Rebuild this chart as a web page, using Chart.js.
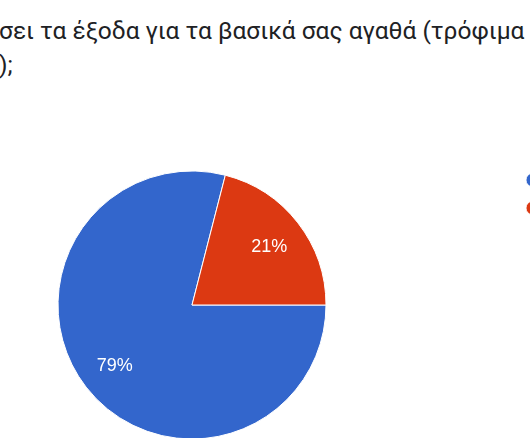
<!DOCTYPE html>
<html>
<head>
<meta charset="utf-8">
<script src="https://cdn.jsdelivr.net/npm/chart.js@4"></script>
<style>
  body { margin: 0; width: 530px; height: 438px; overflow: hidden; background: #fff; position: relative; }
  #title {
    position: absolute; left: -1px; top: 14px; white-space: nowrap;
    font-family: Roboto, Arial, sans-serif; font-size: 24.5px; line-height: 34px; color: #202124;
  }
  #pie { position: absolute; left: -130px; top: 0; }
</style>
</head>
<body>
<div id="title">σει τα έξοδα για τα βασικά σας αγαθά (τρόφιμα<br>);</div>
<canvas id="pie" width="704" height="451"></canvas>
<script>
// Answers and their share of responses (%)
const answers = ['Ναι', 'Όχι'];
const shares = [79, 21];
const colors = ['#3366cc', '#dc3912'];

// Percentage labels drawn inside each slice
const percentLabels = {
    id: 'percentLabels',
    afterDatasetsDraw(chart) {
        const ctx = chart.ctx;
        const meta = chart.getDatasetMeta(0);
        const values = chart.data.datasets[0].data;
        const total = values.reduce((a, b) => a + b, 0);
        ctx.save();
        ctx.fillStyle = '#ffffff';
        ctx.font = '18px Arial, "Liberation Sans", sans-serif';
        ctx.textAlign = 'center';
        ctx.textBaseline = 'alphabetic';
        meta.data.forEach((arc, i) => {
            const p = arc.getProps(['x', 'y', 'startAngle', 'endAngle', 'outerRadius'], true);
            const mid = (p.startAngle + p.endAngle) / 2;
            const r = p.outerRadius * 0.73;
            const pct = Math.round(values[i] / total * 100);
            // baseline shifted so the digits sit centred on the point
            ctx.fillText(pct + '%', p.x + Math.cos(mid) * r, p.y + Math.sin(mid) * r + 6.5);
        });
        ctx.restore();
    }
};

const ctx = document.getElementById('pie').getContext('2d');
new Chart(ctx, {
    type: 'pie',
    data: {
        labels: answers,
        datasets: [{
            data: shares,
            backgroundColor: colors,
            borderColor: '#ffffff',
            borderWidth: 1,
            radius: 134,
            rotation: 90
        }]
    },
    options: {
        responsive: false,
        animation: false,
        layout: { padding: { top: 159 } },
        plugins: {
            tooltip: { enabled: false },
            legend: {
                position: 'right',
                align: 'start',
                maxWidth: 60,
                labels: {
                    usePointStyle: true,
                    pointStyle: 'circle',
                    boxWidth: 10,
                    boxHeight: 10,
                    padding: 14,
                    color: '#222',
                    font: { size: 14, family: 'Roboto, Arial, sans-serif' }
                }
            }
        }
    },
    plugins: [percentLabels]
});
</script>
</body>
</html>
